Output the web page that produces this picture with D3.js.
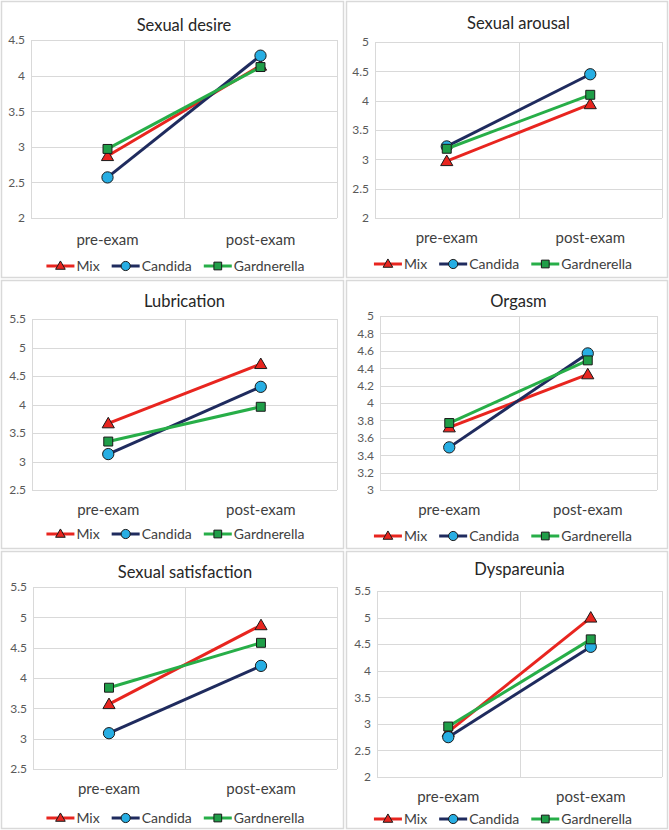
<!DOCTYPE html>
<html>
<head>
<meta charset="utf-8">
<script src="https://cdn.jsdelivr.net/npm/d3@7/dist/d3.min.js"></script>
<style>
  html, body { margin: 0; padding: 0; background: #fff; }
  svg { display: block; }
  text { font-family: Lato, "Open Sans", sans-serif; }
</style>
</head>
<body>
<svg id="chart" width="669" height="830"></svg>
<script>
// ---------- data ----------
const categories = ["pre-exam", "post-exam"];
const seriesNames = ["Mix", "Candida", "Gardnerella"];
const panelTitles = ["Sexual desire", "Sexual arousal", "Lubrication", "Orgasm", "Sexual satisfaction", "Dyspareunia"];
const mixValues = [[2.87, 4.14], [2.97, 3.94], [3.67, 4.71], [3.72, 4.33], [3.57, 4.87], [2.85, 5.00]];
const candidaValues = [[2.57, 4.28], [3.22, 4.45], [3.13, 4.31], [3.49, 4.57], [3.09, 4.20], [2.75, 4.45]];
const gardnerellaValues = [[2.97, 4.12], [3.18, 4.10], [3.35, 3.96], [3.77, 4.49], [3.84, 4.58], [2.95, 4.59]];
const yTickLabels = [
  ["2", "2.5", "3", "3.5", "4", "4.5"],
  ["2", "2.5", "3", "3.5", "4", "4.5", "5"],
  ["2.5", "3", "3.5", "4", "4.5", "5", "5.5"],
  ["3", "3.2", "3.4", "3.6", "3.8", "4", "4.2", "4.4", "4.6", "4.8", "5"],
  ["2.5", "3", "3.5", "4", "4.5", "5", "5.5"],
  ["2", "2.5", "3", "3.5", "4", "4.5", "5", "5.5"]
];

// ---------- layout / style ----------
const layout = [
  { box: [1, 1, 344, 278], plot: [31, 40, 337, 218], title: 31, xlab: 245, leg: 266 },
  { box: [346, 1, 668, 278], plot: [375, 42, 662, 218], title: 29, xlab: 243, leg: 264 },
  { box: [1, 280, 344, 549], plot: [32, 319, 337, 490], title: 307, xlab: 515, leg: 534 },
  { box: [346, 280, 668, 549], plot: [380, 316, 657, 490], title: 307, xlab: 515, leg: 536 },
  { box: [1, 551, 344, 829], plot: [33, 587, 337, 769], title: 578, xlab: 794, leg: 818 },
  { box: [346, 551, 668, 829], plot: [377, 591, 662, 777], title: 575, xlab: 802, leg: 819 }
];
const lineColors = ["#e8251f", "#1f2b5e", "#27ae48"];
const markerFills = ["#e8251f", "#27aee3", "#1f9e48"];
const markerTypes = [d3.symbolTriangle, d3.symbolCircle, d3.symbolSquare];
const markerSizes = [64, 100, 80];
const legendMarkerSizes = [40, 66, 60];
const allSeries = [mixValues, candidaValues, gardnerellaValues];

const svg = d3.select("#chart");
svg.append("rect").attr("width", 669).attr("height", 830).attr("fill", "#fff");

layout.forEach((L, i) => {
  const g = svg.append("g");
  const [bx0, by0, bx1, by1] = L.box;
  g.append("rect").attr("x", bx0 + 0.5).attr("y", by0 + 0.5)
    .attr("width", bx1 - bx0 - 1).attr("height", by1 - by0 - 1)
    .attr("fill", "#fff").attr("stroke", "#d9d9d9").attr("stroke-width", 1.5);

  const [px0, py0, px1, py1] = L.plot;
  const ticks = yTickLabels[i].map(Number);
  const y = d3.scaleLinear().domain([ticks[0], ticks[ticks.length - 1]]).range([py1, py0]);
  const x = d3.scaleBand().domain(categories).range([px0, px1]);
  const xc = c => x(c) + x.bandwidth() / 2;

  // horizontal gridlines
  g.append("g").selectAll("line").data(ticks).join("line")
    .attr("x1", px0).attr("x2", px1)
    .attr("y1", d => Math.round(y(d)) + 0.5).attr("y2", d => Math.round(y(d)) + 0.5)
    .attr("stroke", "#d9d9d9").attr("stroke-width", 1);
  // vertical gridlines at category boundaries
  const vlines = categories.map(c => x(c)).concat([px1]);
  g.append("g").selectAll("line").data(vlines).join("line")
    .attr("x1", d => Math.round(d) + 0.5).attr("x2", d => Math.round(d) + 0.5)
    .attr("y1", py0).attr("y2", py1)
    .attr("stroke", "#d9d9d9").attr("stroke-width", 1);

  // y tick labels via axis
  const yAxis = d3.axisLeft(y).tickValues(ticks).tickSize(0).tickPadding(0)
    .tickFormat((d, k) => yTickLabels[i][k]);
  const ya = g.append("g").attr("transform", `translate(${px0 - 6},0)`).call(yAxis);
  ya.select(".domain").remove();
  ya.selectAll("text").attr("font-size", 12).attr("fill", "#595959")
    .attr("font-family", "Lato, sans-serif");

  // x category labels via axis
  const xAxis = d3.axisBottom(x).tickSize(0).tickPadding(0);
  const xa = g.append("g").attr("transform", `translate(0,${L.xlab - 12})`).call(xAxis);
  xa.select(".domain").remove();
  xa.selectAll("text").attr("font-size", 15).attr("fill", "#404040")
    .attr("font-family", "Lato, sans-serif").attr("dy", 0).attr("y", 12);

  // title
  g.append("text").attr("x", (px0 + px1) / 2).attr("y", L.title)
    .attr("text-anchor", "middle").attr("font-size", 16.5).attr("fill", "#262626")
    .text(panelTitles[i]);

  // series
  allSeries.forEach((vals, s) => {
    const pts = categories.map((c, k) => [xc(c), y(vals[i][k])]);
    g.append("path").attr("d", d3.line()(pts)).attr("fill", "none")
      .attr("stroke", lineColors[s]).attr("stroke-width", 3);
    g.append("g").selectAll("path").data(pts).join("path")
      .attr("transform", d => `translate(${d[0]},${d[1] + (s === 0 ? 1 : 0)})`)
      .attr("d", d3.symbol().type(markerTypes[s]).size(markerSizes[s]))
      .attr("fill", markerFills[s]).attr("stroke", "#1a1a1a").attr("stroke-width", 1);
  });

  // legend
  const lg = g.append("g");
  let cx = 0;
  seriesNames.forEach((name, s) => {
    const it = lg.append("g");
    it.append("line").attr("x1", 0).attr("x2", 28).attr("y1", 0).attr("y2", 0)
      .attr("stroke", lineColors[s]).attr("stroke-width", 3);
    it.append("path").attr("transform", `translate(14,${s === 0 ? 0.5 : 0})`)
      .attr("d", d3.symbol().type(markerTypes[s]).size(legendMarkerSizes[s]))
      .attr("fill", markerFills[s]).attr("stroke", "#1a1a1a").attr("stroke-width", 1);
    const t = it.append("text").attr("x", 30).attr("y", 5).attr("font-size", 14)
      .attr("fill", "#404040").text(name);
    const w = 30 + t.node().getComputedTextLength();
    it.attr("transform", `translate(${cx},0)`);
    cx += w + 12;
  });
  const totalW = cx - 12;
  const center = (bx0 + bx1) / 2 + (i % 2 === 0 ? 3 : -4);
  lg.attr("transform", `translate(${center - totalW / 2},${L.leg})`);
});
</script>
</body>
</html>
